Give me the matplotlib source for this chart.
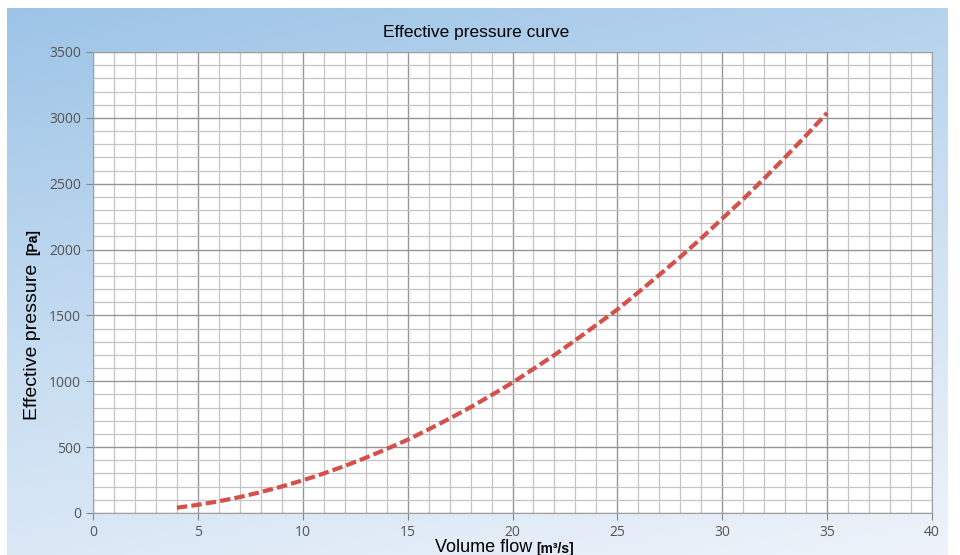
import numpy as np
import matplotlib.pyplot as plt
from matplotlib.colors import LinearSegmentedColormap

# volume flow [m3/s] and effective pressure [Pa]
flow = [4, 5, 6, 7, 8, 9, 10, 11, 12, 13, 14, 15, 16, 17, 18, 19, 20,
        21, 22, 23, 24, 25, 26, 27, 28, 29, 30, 31, 32, 33, 34, 35]
pressure = [40, 62, 89, 121, 159, 201, 248, 300, 357, 419, 486, 556, 635, 717,
            803, 895, 990, 1094, 1200, 1312, 1428, 1545, 1676, 1808, 1944,
            2086, 2235, 2383, 2540, 2701, 2867, 3038]

x_ticks = [0, 5, 10, 15, 20, 25, 30, 35, 40]
y_ticks = [0, 500, 1000, 1500, 2000, 2500, 3000, 3500]

W, H = 960, 555
fig = plt.figure(figsize=(W / 100, H / 100), dpi=100)
fig.patch.set_facecolor('white')

# blue gradient backdrop
bg = fig.add_axes([7 / W, 0, 941 / W, 547 / H], zorder=0)
vv, hh = np.mgrid[0:1:200j, 0:1:300j]
t = 0.8 * vv + 0.3 * hh
t = t / t.max()
cmap = LinearSegmentedColormap.from_list('bg', ['#9dc4e7', '#c9def2', '#eef3fa'])
bg.imshow(t, cmap=cmap, aspect='auto', extent=[0, 1, 0, 1])
bg.axis('off')

ax = fig.add_axes([93 / W, 42 / H, 839 / W, 461 / H], zorder=1)
ax.set_facecolor('white')
ax.plot(flow, pressure, color='#d64f4b', lw=3, dashes=(2.5, 1), zorder=3)

ax.set_xlim(0, 40)
ax.set_ylim(0, 3500)
ax.set_xticks(x_ticks)
ax.set_yticks(y_ticks)
ax.set_xticks(np.arange(0, 41, 1), minor=True)
ax.set_yticks(np.arange(0, 3501, 100), minor=True)
ax.grid(which='minor', color='#c4c4c4', lw=0.9)
ax.grid(which='major', color='#959595', lw=1.0)
ax.set_axisbelow(True)
for s in ax.spines.values():
    s.set_color('#a0a0a0')
ax.tick_params(which='major', length=5, color='#888888', labelcolor='#555555',
               labelsize=10)
ax.tick_params(which='minor', length=0)
for lab in ax.get_xticklabels() + ax.get_yticklabels():
    lab.set_family('Open Sans')

fig.text(476 / W, 1 - 32 / H, 'Effective pressure curve', ha='center', va='center',
         fontsize=12.5, family='Liberation Sans')
fig.text(33 / W, 1 - 420 / H, 'Effective pressure', rotation=90, ha='center',
         va='bottom', fontsize=14, family='Liberation Sans')
fig.text(33 / W, 1 - 255 / H, '[Pa]', rotation=90, ha='center', va='bottom',
         fontsize=10, family='Liberation Sans', fontweight='bold')
fig.text(435 / W, 1 - 548 / H, 'Volume flow', ha='left', va='center',
         fontsize=13, family='Liberation Sans')
fig.text(536 / W, 1 - 549 / H, '[m³/s]', ha='left', va='center',
         fontsize=10, family='Liberation Sans', fontweight='bold')

fig.savefig('out.png', dpi=100)
